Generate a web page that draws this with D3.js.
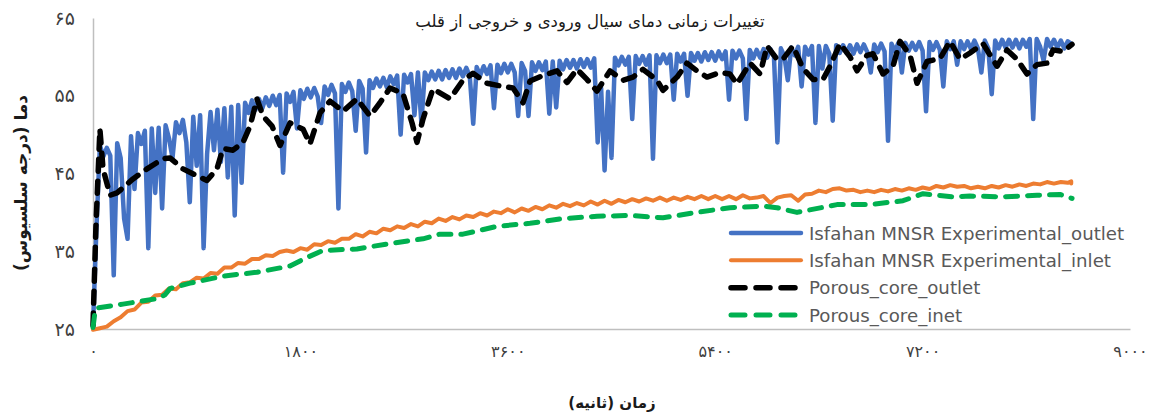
<!DOCTYPE html>
<html>
<head>
<meta charset="utf-8">
<script src="https://cdn.jsdelivr.net/npm/d3@7"></script>
<style>
  body { margin: 0; background: #fff; }
  text { font-family: "DejaVu Sans", sans-serif; }
</style>
</head>
<body>
<svg id="chart" width="1168" height="415"></svg>
<script>
// ---- text ----
const chartTitle = "تغییرات زمانی دمای سیال ورودی و خروجی از قلب";
const xAxisTitle = "زمان (ثانیه)";
const yAxisTitle = "دما (درجه سلسیوس)";
const seriesNames = [
  "Isfahan MNSR Experimental_outlet",
  "Isfahan MNSR Experimental_inlet",
  "Porous_core_outlet",
  "Porous_core_inet"
];
const xTicks = [0, 1800, 3600, 5400, 7200, 9000];
const yTicks = [25, 35, 45, 55, 65];

// ---- measured outlet temperature, one sample every 30 s ----
const outletExpStep = 30;
const outletExp = [
  25.3, 38.0, 48.6, 47.2, 48.3, 47.3, 31.9, 48.9, 47.0, 39.2,
  36.6, 49.8, 43.0, 50.2, 48.8, 50.5, 35.4, 50.8, 42.5, 50.9,
  40.5, 51.2, 49.5, 47.0, 51.6, 50.2, 51.9, 49.0, 41.3, 52.3,
  46.0, 52.5, 35.4, 47.5, 52.9, 48.0, 53.2, 46.5, 53.4, 44.5,
  53.6, 39.6, 53.8, 43.8, 54.1, 52.8, 54.4, 53.2, 54.6, 53.4,
  54.8, 53.7, 55.0, 53.8, 55.1, 45.1, 55.3, 54.2, 55.5, 50.8,
  55.7, 54.6, 55.9, 54.8, 56.0, 54.9, 51.5, 56.2, 55.1, 56.4,
  55.3, 40.5, 56.5, 55.5, 56.7, 55.6, 50.5, 56.9, 55.9, 47.7,
  57.0, 56.0, 57.2, 56.2, 57.3, 56.1, 57.5, 56.5, 57.6, 50.0,
  57.7, 56.7, 57.8, 52.5, 58.0, 51.5, 58.0, 57.0, 58.1, 57.1,
  58.2, 57.1, 58.3, 57.3, 58.4, 57.3, 58.5, 57.5, 58.6, 57.5,
  51.4, 58.7, 57.6, 58.8, 57.8, 58.9, 53.4, 59.0, 57.9, 59.1,
  58.0, 59.1, 58.0, 52.4, 59.2, 58.2, 52.4, 59.3, 58.2, 59.3,
  58.3, 59.4, 52.7, 59.4, 53.5, 59.5, 58.4, 59.6, 58.6, 59.6,
  58.5, 59.7, 58.7, 59.7, 58.6, 59.8, 49.0, 56.0, 45.4, 55.5,
  47.0, 59.9, 58.9, 60.0, 59.0, 60.0, 52.0, 60.1, 59.1, 60.1,
  59.0, 60.2, 46.9, 60.2, 59.2, 60.3, 59.2, 60.3, 54.5, 60.4,
  59.4, 60.4, 55.0, 60.5, 59.5, 60.5, 59.4, 60.6, 59.6, 60.6,
  59.5, 60.7, 59.7, 60.7, 54.5, 60.8, 59.8, 60.8, 59.8, 52.0,
  60.9, 59.8, 60.9, 59.9, 61.0, 59.9, 61.0, 60.0, 49.0, 61.1,
  60.1, 57.0, 61.2, 60.2, 61.3, 56.2, 61.3, 60.3, 61.4, 51.5,
  61.4, 58.5, 61.4, 60.4, 51.8, 61.5, 60.5, 61.5, 60.5, 61.5,
  60.4, 61.6, 60.6, 61.6, 60.6, 58.0, 61.6, 60.6, 61.7, 60.7,
  49.2, 61.7, 60.7, 61.8, 58.0, 61.8, 60.8, 61.8, 60.9, 61.9,
  60.8, 53.0, 61.9, 60.9, 61.9, 60.9, 56.2, 62.0, 61.0, 62.0,
  59.0, 62.0, 61.0, 62.0, 61.0, 62.1, 61.1, 58.0, 62.1, 61.1,
  55.2, 62.1, 61.1, 62.2, 61.2, 62.2, 61.2, 62.2, 61.1, 62.2,
  61.3, 62.3, 52.0, 62.3, 61.3, 59.5, 62.3, 61.3, 62.2, 61.2,
  62.1, 61.1, 62.0, 61.7
];

// ---- measured inlet temperature, one sample every 60 s ----
const inletExpStep = 60;
const inletExp = [
  24.9, 25.1, 25.3, 26.0, 26.5, 27.3, 27.5, 28.4, 28.5, 29.3,
  29.4, 30.2, 30.1, 30.9, 31.0, 31.6, 31.5, 32.2, 32.1, 32.9,
  32.9, 33.5, 33.4, 34.0, 34.0, 34.5, 34.4, 34.9, 35.1, 34.9,
  35.4, 35.2, 35.9, 35.8, 36.3, 36.1, 36.6, 36.6, 37.2, 36.9,
  37.5, 37.3, 37.9, 37.7, 38.2, 38.0, 38.5, 38.2, 38.8, 38.6,
  39.2, 38.9, 39.4, 39.1, 39.6, 39.4, 39.9, 39.6, 40.1, 39.9,
  40.4, 40.0, 40.5, 40.2, 40.7, 40.4, 40.9, 40.6, 41.1, 40.8,
  41.2, 40.9, 41.4, 41.0, 41.5, 41.1, 41.6, 41.3, 41.7, 41.4,
  41.8, 41.5, 41.9, 41.5, 41.9, 41.6, 42.0, 41.7, 42.1, 41.7,
  42.1, 41.7, 42.1, 41.7, 42.2, 41.8, 41.9, 42.1, 41.2, 41.9,
  42.1, 42.2, 41.5, 42.3, 42.4, 42.8, 42.6, 43.0, 43.1, 42.8,
  42.9, 42.6, 42.8, 42.6, 42.9, 42.7, 43.0, 42.8, 43.1, 42.9,
  43.2, 43.0, 43.4, 43.2, 43.5, 43.3, 43.4, 43.1, 43.3, 43.1,
  43.4, 43.2, 43.5, 43.3, 43.6, 43.4, 43.7, 43.6, 43.9, 43.7,
  43.9, 43.8, 44.0, 43.7, 43.9, 43.8
];

// ---- simulated outlet temperature (porous core model) ----
const outletSimTime = [
  0, 25, 60, 87, 148, 208, 347, 469, 608, 668,
  781, 903, 989, 1076, 1128, 1215, 1302, 1363, 1423, 1475,
  1554, 1623, 1710, 1823, 1883, 1970, 2057, 2170, 2291, 2404,
  2491, 2578, 2690, 2769, 2812, 2864, 2951, 3098, 3211, 3298,
  3419, 3558, 3645, 3732, 3793, 3906, 4027, 4114, 4201, 4287,
  4374, 4487, 4600, 4687, 4773, 4895, 4947, 5069, 5155, 5242,
  5329, 5442, 5528, 5589, 5702, 5789, 5850, 5936, 5988, 6075,
  6162, 6249, 6336, 6396, 6483, 6570, 6631, 6717, 6770, 6856,
  6943, 7004, 7091, 7152, 7238, 7351, 7438, 7525, 7611, 7724,
  7846, 7933, 8019, 8106, 8193, 8280, 8332, 8419, 8497
];
const outletSim = [
  25.5, 38.0, 50.7, 45.6, 42.2, 42.5, 44.3, 45.6, 46.9, 47.0,
  45.6, 44.7, 44.1, 45.6, 48.2, 48.0, 49.0, 51.1, 54.6, 52.4,
  51.1, 48.6, 51.5, 50.7, 48.8, 52.8, 54.3, 53.0, 54.6, 52.4,
  54.1, 56.0, 55.3, 51.5, 49.0, 52.0, 55.9, 54.6, 57.0, 57.9,
  56.6, 56.2, 56.0, 54.1, 56.9, 57.6, 58.2, 56.7, 58.4, 57.1,
  55.6, 58.2, 57.0, 57.4, 58.4, 57.0, 55.7, 57.4, 59.2, 58.2,
  57.4, 58.0, 57.8, 56.5, 59.2, 57.8, 61.4, 59.7, 59.7, 61.4,
  58.5, 57.1, 57.1, 58.8, 61.7, 60.0, 58.2, 60.2, 60.4, 57.8,
  58.8, 62.0, 60.2, 56.6, 59.4, 59.8, 62.0, 59.7, 60.5, 61.7,
  58.8, 60.9, 59.7, 57.8, 59.0, 59.2, 60.9, 60.7, 61.6
];

// ---- simulated inlet temperature (porous core model) ----
const inletSimTime = [
  0, 20, 35, 260, 555, 625, 668, 842, 1128, 1423,
  1710, 1857, 1996, 2291, 2578, 2864, 3012, 3211, 3506, 3793,
  4079, 4374, 4661, 4947, 5242, 5528, 5815, 5936, 6110, 6457,
  6743, 7030, 7204, 7464, 7611, 7898, 8193, 8393, 8497
];
const inletSim = [
  25.2, 27.5, 27.7, 28.2, 28.9, 29.4, 30.2, 30.9, 31.8, 32.3,
  33.1, 34.2, 35.1, 35.3, 36.0, 36.6, 37.2, 37.2, 38.2, 38.6,
  39.2, 39.5, 39.6, 39.3, 40.0, 40.6, 40.8, 40.6, 40.0, 41.0,
  41.0, 41.5, 42.4, 42.0, 42.1, 42.0, 42.2, 42.3, 41.8
];

// ---- layout ----
const svg = d3.select("#chart");
const plot = { left: 93, right: 1130, top: 18, bottom: 329 };

const x = d3.scaleLinear().domain([0, 9000]).range([plot.left, plot.right]);
const y = d3.scaleLinear().domain([25, 65]).range([plot.bottom, plot.top]);

const persianDigits = "۰۱۲۳۴۵۶۷۸۹";
const toPersian = v => String(v).replace(/\d/g, d => persianDigits[+d]);

// ---- axes ----
const xAxis = svg.append("g")
  .attr("transform", `translate(0,${plot.bottom})`)
  .call(d3.axisBottom(x).tickValues(xTicks).tickSize(0).tickPadding(17).tickFormat(toPersian));
xAxis.select(".domain").attr("stroke", "#BFBFBF").attr("stroke-width", 1.5);
xAxis.selectAll("text").attr("font-size", 16).attr("fill", "#404040")
  .attr("font-family", "DejaVu Sans");

const yAxis = svg.append("g")
  .attr("transform", `translate(${plot.left},0)`)
  .call(d3.axisLeft(y).tickValues(yTicks).tickSize(0).tickPadding(18).tickFormat(toPersian));
yAxis.select(".domain").attr("stroke", "#BFBFBF").attr("stroke-width", 1.5);
yAxis.selectAll("text").attr("font-size", 19).attr("fill", "#404040")
  .attr("font-family", "DejaVu Sans");

// ---- series ----
const line = d3.line().x(d => x(d[0])).y(d => y(d[1]));

const outletExpPts = outletExp.map((v, i) => [i * outletExpStep, v]);
const inletExpPts = inletExp.map((v, i) => [Math.min(i * inletExpStep, 8490), v]);
const outletSimPts = outletSimTime.map((t, i) => [t, outletSim[i]]);
const inletSimPts = inletSimTime.map((t, i) => [t, inletSim[i]]);

const styles = [
  { color: "#4472C4", width: 4.5, dash: null },
  { color: "#ED7D31", width: 4, dash: null },
  { color: "#000000", width: 5.5, dash: "12,10" },
  { color: "#00B050", width: 5, dash: "12,10" }
];
const seriesPts = [outletExpPts, inletExpPts, outletSimPts, inletSimPts];

seriesPts.forEach((pts, k) => {
  svg.append("path")
    .datum(pts)
    .attr("fill", "none")
    .attr("stroke", styles[k].color)
    .attr("stroke-width", styles[k].width)
    .attr("stroke-linejoin", "round")
    .attr("stroke-linecap", "round")
    .attr("stroke-dasharray", styles[k].dash)
    .attr("d", line);
});

// ---- titles ----
svg.append("text")
  .attr("x", 590).attr("y", 27)
  .attr("text-anchor", "middle")
  .attr("font-size", 16.5).attr("fill", "#1a1a1a")
  .text(chartTitle);

svg.append("text")
  .attr("x", 612).attr("y", 408)
  .attr("text-anchor", "middle")
  .attr("font-size", 15).attr("font-weight", "bold").attr("fill", "#1a1a1a")
  .text(xAxisTitle);

svg.append("text")
  .attr("transform", "translate(27,183) rotate(-90)")
  .attr("text-anchor", "middle")
  .attr("font-size", 17).attr("font-weight", "bold").attr("fill", "#1a1a1a")
  .text(yAxisTitle);

// ---- legend ----
const legend = svg.append("g");
const legendY = d3.scalePoint().domain(seriesNames).range([233, 315]);
seriesNames.forEach((name, k) => {
  const ly = legendY(name);
  legend.append("line")
    .attr("x1", 731).attr("x2", 801).attr("y1", ly).attr("y2", ly)
    .attr("stroke", styles[k].color)
    .attr("stroke-width", styles[k].width)
    .attr("stroke-linecap", "round")
    .attr("stroke-dasharray", styles[k].dash ? "14,11" : null);
  legend.append("text")
    .attr("x", 809).attr("y", ly)
    .attr("dominant-baseline", "central")
    .attr("font-family", "Open Sans")
    .attr("font-size", 18.2).attr("fill", "#595959")
    .text(name);
});
</script>
</body>
</html>
